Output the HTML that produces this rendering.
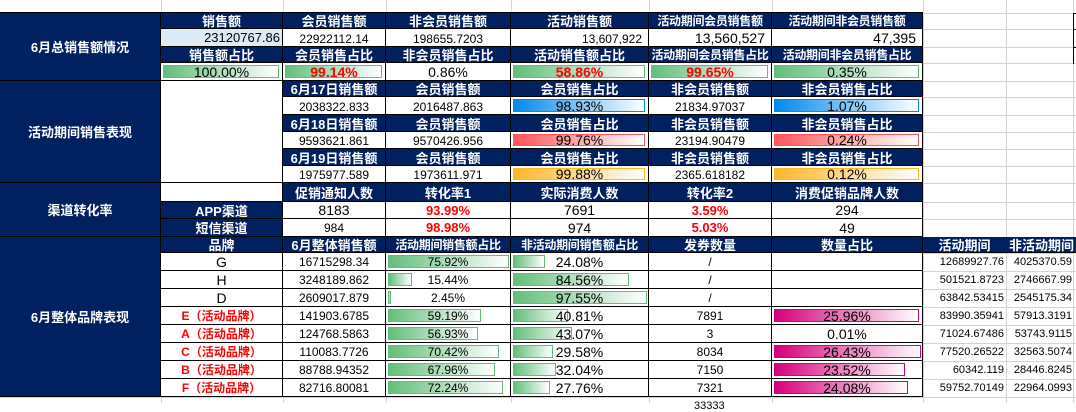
<!DOCTYPE html>
<html><head><meta charset="utf-8"><style>
body{margin:0;width:1076px;height:403px;overflow:hidden;background:#fff;position:relative;font-family:"Liberation Sans","Noto Sans CJK SC",sans-serif}
.gv{position:absolute;top:0;height:403px;width:1px;background:#d4d4d4}
.gh{position:absolute;left:0;width:1076px;height:1px;background:#d4d4d4}
.c{position:absolute;box-sizing:border-box;display:flex;align-items:center;justify-content:center;font-size:12px;color:#000;border-right:1px solid #000;border-bottom:1px solid #000;white-space:nowrap;background:#fff;overflow:hidden}
.n{background:#002060;color:#fff;font-weight:bold;font-size:13px}
.sm{font-size:12px;letter-spacing:-0.3px}
.t{background:transparent;border:none;justify-content:flex-end;padding-right:2px;font-size:11px}
.r{color:#f00;font-weight:bold;font-size:13px}
.rb{color:#f00;font-weight:bold;font-size:12px}
.bar{position:absolute;left:2px;top:2px;bottom:2px;box-sizing:border-box}
.g{background:linear-gradient(to right,#63be7b,#fff);border:1px solid #63be7b}
.bl{background:linear-gradient(to right,#008aef,#fff);border:1px solid #008aef}
.rd{background:linear-gradient(to right,#ff555a,#fff);border:1px solid #ff555a}
.or{background:linear-gradient(to right,#ffb628,#fff);border:1px solid #ffb628}
.pk{background:linear-gradient(to right,#d6007b,#fff);border:1px solid #d6007b}
.c span{position:relative}
.p{font-size:14px}
</style></head><body>
<div class="gv" style="left:161px"></div><div class="gv" style="left:283px"></div><div class="gv" style="left:386px"></div><div class="gv" style="left:511px"></div><div class="gv" style="left:649px"></div><div class="gv" style="left:772px"></div><div class="gv" style="left:923px"></div><div class="gv" style="left:1006px"></div><div class="gv" style="left:1073px"></div>
<div class="gh" style="top:13px"></div><div class="gh" style="top:29px"></div><div class="gh" style="top:47px"></div><div class="gh" style="top:63px"></div><div class="gh" style="top:81px"></div><div class="gh" style="top:97px"></div><div class="gh" style="top:115px"></div><div class="gh" style="top:132px"></div><div class="gh" style="top:149px"></div><div class="gh" style="top:166px"></div><div class="gh" style="top:183px"></div><div class="gh" style="top:202px"></div><div class="gh" style="top:219px"></div><div class="gh" style="top:237px"></div><div class="gh" style="top:253px"></div><div class="gh" style="top:271px"></div><div class="gh" style="top:289px"></div><div class="gh" style="top:307px"></div><div class="gh" style="top:325px"></div><div class="gh" style="top:343px"></div><div class="gh" style="top:361px"></div><div class="gh" style="top:379px"></div><div class="gh" style="top:397px"></div>
<div style="position:absolute;left:1073px;top:13px;width:3px;height:50px;border-left:1px solid #000;border-top:1px solid #000"></div>
<div style="position:absolute;left:1073px;top:29px;width:3px;height:1px;background:#000"></div>
<div style="position:absolute;left:1073px;top:47px;width:3px;height:1px;background:#000"></div>
<div style="position:absolute;left:0;top:12px;width:923px;height:1px;background:#000"></div>

<!-- Section 1 -->
<div class="c n" style="left:0;top:13px;width:161px;height:68px">6月总销售额情况</div>
<div class="c n" style="left:161px;top:13px;width:122px;height:16px">销售额</div>
<div class="c n" style="left:283px;top:13px;width:103px;height:16px">会员销售额</div>
<div class="c n" style="left:386px;top:13px;width:125px;height:16px">非会员销售额</div>
<div class="c n" style="left:511px;top:13px;width:138px;height:16px">活动销售额</div>
<div class="c n sm" style="left:649px;top:13px;width:123px;height:16px">活动期间会员销售额</div>
<div class="c n sm" style="left:772px;top:13px;width:151px;height:16px">活动期间非会员销售额</div>
<div class="c" style="left:161px;top:29px;width:122px;height:18px;background:#ddebf7;justify-content:flex-end;padding-right:2px;font-size:13px">23120767.86</div>
<div class="c" style="left:283px;top:29px;width:103px;height:18px;align-items:flex-end">22922112.14</div>
<div class="c" style="left:386px;top:29px;width:125px;height:18px;align-items:flex-end">198655.7203</div>
<div class="c" style="left:511px;top:29px;width:138px;height:18px;align-items:flex-end;justify-content:flex-end;padding-right:6px">13,607,922</div>
<div class="c" style="left:649px;top:29px;width:123px;height:18px;justify-content:flex-end;padding-right:6px;font-size:14px">13,560,527</div>
<div class="c" style="left:772px;top:29px;width:151px;height:18px;justify-content:flex-end;padding-right:6px;font-size:14px">47,395</div>
<div class="c n" style="left:161px;top:47px;width:122px;height:16px">销售额占比</div>
<div class="c n" style="left:283px;top:47px;width:103px;height:16px">会员销售占比</div>
<div class="c n" style="left:386px;top:47px;width:125px;height:16px">非会员销售占比</div>
<div class="c n" style="left:511px;top:47px;width:138px;height:16px">活动销售额占比</div>
<div class="c n sm" style="left:649px;top:47px;width:123px;height:16px">活动期间会员销售占比</div>
<div class="c n sm" style="left:772px;top:47px;width:151px;height:16px">活动期间非会员销售占比</div>
<div class="c p" style="left:161px;top:63px;width:122px;height:18px"><div class="bar g" style="width:116px"></div><span>100.00%</span></div>
<div class="c p r" style="left:283px;top:63px;width:103px;height:18px"><div class="bar g" style="width:97px"></div><span>99.14%</span></div>
<div class="c p" style="left:386px;top:63px;width:125px;height:18px"><span>0.86%</span></div>
<div class="c p r" style="left:511px;top:63px;width:138px;height:18px"><div class="bar g" style="width:132px"></div><span>58.86%</span></div>
<div class="c p r" style="left:649px;top:63px;width:123px;height:18px"><div class="bar g" style="width:117px"></div><span>99.65%</span></div>
<div class="c p" style="left:772px;top:63px;width:151px;height:18px"><div class="bar g" style="width:145px"></div><span>0.35%</span></div>

<!-- Section 2 -->
<div class="c n" style="left:0;top:81px;width:161px;height:102px">活动期间销售表现</div>
<div class="c" style="left:161px;top:81px;width:122px;height:102px"></div>
<div class="c n" style="left:283px;top:81px;width:103px;height:16px">6月17日销售额</div>
<div class="c n" style="left:386px;top:81px;width:125px;height:16px">会员销售额</div>
<div class="c n" style="left:511px;top:81px;width:138px;height:16px">会员销售占比</div>
<div class="c n" style="left:649px;top:81px;width:123px;height:16px">非会员销售额</div>
<div class="c n" style="left:772px;top:81px;width:151px;height:16px">非会员销售占比</div>
<div class="c" style="left:283px;top:97px;width:103px;height:18px;align-items:flex-end">2038322.833</div>
<div class="c" style="left:386px;top:97px;width:125px;height:18px;align-items:flex-end">2016487.863</div>
<div class="c p" style="left:511px;top:97px;width:138px;height:18px"><div class="bar bl" style="width:132px"></div><span>98.93%</span></div>
<div class="c" style="left:649px;top:97px;width:123px;height:18px;align-items:flex-end">21834.97037</div>
<div class="c p" style="left:772px;top:97px;width:151px;height:18px"><div class="bar bl" style="width:145px"></div><span>1.07%</span></div>
<div class="c n" style="left:283px;top:115px;width:103px;height:17px">6月18日销售额</div>
<div class="c n" style="left:386px;top:115px;width:125px;height:17px">会员销售额</div>
<div class="c n" style="left:511px;top:115px;width:138px;height:17px">会员销售占比</div>
<div class="c n" style="left:649px;top:115px;width:123px;height:17px">非会员销售额</div>
<div class="c n" style="left:772px;top:115px;width:151px;height:17px">非会员销售占比</div>
<div class="c" style="left:283px;top:132px;width:103px;height:17px;align-items:flex-end">9593621.861</div>
<div class="c" style="left:386px;top:132px;width:125px;height:17px;align-items:flex-end">9570426.956</div>
<div class="c p" style="left:511px;top:132px;width:138px;height:17px"><div class="bar rd" style="width:132px"></div><span>99.76%</span></div>
<div class="c" style="left:649px;top:132px;width:123px;height:17px;align-items:flex-end">23194.90479</div>
<div class="c p" style="left:772px;top:132px;width:151px;height:17px"><div class="bar rd" style="width:145px"></div><span>0.24%</span></div>
<div class="c n" style="left:283px;top:149px;width:103px;height:17px">6月19日销售额</div>
<div class="c n" style="left:386px;top:149px;width:125px;height:17px">会员销售额</div>
<div class="c n" style="left:511px;top:149px;width:138px;height:17px">会员销售占比</div>
<div class="c n" style="left:649px;top:149px;width:123px;height:17px">非会员销售额</div>
<div class="c n" style="left:772px;top:149px;width:151px;height:17px">非会员销售占比</div>
<div class="c" style="left:283px;top:166px;width:103px;height:17px;align-items:flex-end">1975977.589</div>
<div class="c" style="left:386px;top:166px;width:125px;height:17px;align-items:flex-end">1973611.971</div>
<div class="c p" style="left:511px;top:166px;width:138px;height:17px"><div class="bar or" style="width:132px"></div><span>99.88%</span></div>
<div class="c" style="left:649px;top:166px;width:123px;height:17px;align-items:flex-end">2365.618182</div>
<div class="c p" style="left:772px;top:166px;width:151px;height:17px"><div class="bar or" style="width:145px"></div><span>0.12%</span></div>

<!-- Section 3 -->
<div class="c n" style="left:0;top:183px;width:161px;height:54px">渠道转化率</div>
<div class="c" style="left:161px;top:183px;width:122px;height:19px"></div>
<div class="c n" style="left:283px;top:183px;width:103px;height:19px">促销通知人数</div>
<div class="c n" style="left:386px;top:183px;width:125px;height:19px">转化率1</div>
<div class="c n" style="left:511px;top:183px;width:138px;height:19px">实际消费人数</div>
<div class="c n" style="left:649px;top:183px;width:123px;height:19px">转化率2</div>
<div class="c n" style="left:772px;top:183px;width:151px;height:19px">消费促销品牌人数</div>
<div class="c n" style="left:161px;top:202px;width:122px;height:17px">APP渠道</div>
<div class="c p" style="left:283px;top:202px;width:103px;height:17px">8183</div>
<div class="c r" style="left:386px;top:202px;width:125px;height:17px">93.99%</div>
<div class="c p" style="left:511px;top:202px;width:138px;height:17px">7691</div>
<div class="c r" style="left:649px;top:202px;width:123px;height:17px">3.59%</div>
<div class="c p" style="left:772px;top:202px;width:151px;height:17px">294</div>
<div class="c n" style="left:161px;top:219px;width:122px;height:18px">短信渠道</div>
<div class="c" style="left:283px;top:219px;width:103px;height:18px">984</div>
<div class="c r" style="left:386px;top:219px;width:125px;height:18px">98.98%</div>
<div class="c p" style="left:511px;top:219px;width:138px;height:18px">974</div>
<div class="c r" style="left:649px;top:219px;width:123px;height:18px">5.03%</div>
<div class="c p" style="left:772px;top:219px;width:151px;height:18px">49</div>

<!-- Section 4 -->
<div class="c n" style="left:0;top:237px;width:161px;height:160px">6月整体品牌表现</div>
<div class="c n" style="left:161px;top:237px;width:122px;height:16px">品牌</div>
<div class="c n" style="left:283px;top:237px;width:103px;height:16px">6月整体销售额</div>
<div class="c n sm" style="left:386px;top:237px;width:125px;height:16px">活动期间销售额占比</div>
<div class="c n sm" style="left:511px;top:237px;width:138px;height:16px">非活动期间销售额占比</div>
<div class="c n" style="left:649px;top:237px;width:123px;height:16px">发券数量</div>
<div class="c n" style="left:772px;top:237px;width:151px;height:16px">数量占比</div>
<div class="c n" style="left:923px;top:237px;width:83px;height:16px;border-right:none">活动期间</div>
<div class="c n" style="left:1006px;top:237px;width:70px;height:16px;border-right:none;justify-content:flex-start;padding-left:3px">非活动期间</div>

<div class="c p" style="left:161px;top:253px;width:122px;height:18px">G</div>
<div class="c" style="left:283px;top:253px;width:103px;height:18px">16715298.34</div>
<div class="c" style="left:386px;top:253px;width:125px;height:18px"><div class="bar g" style="width:121px"></div><span>75.92%</span></div>
<div class="c p" style="left:511px;top:253px;width:138px;height:18px"><div class="bar g" style="width:32px"></div><span>24.08%</span></div>
<div class="c" style="left:649px;top:253px;width:123px;height:18px">/</div>
<div class="c" style="left:772px;top:253px;width:151px;height:18px"></div>
<div class="c t" style="left:923px;top:253px;width:83px;height:18px">12689927.76</div>
<div class="c t" style="left:1006px;top:253px;width:68px;height:18px">4025370.59</div>

<div class="c p" style="left:161px;top:271px;width:122px;height:18px">H</div>
<div class="c" style="left:283px;top:271px;width:103px;height:18px">3248189.862</div>
<div class="c" style="left:386px;top:271px;width:125px;height:18px"><div class="bar g" style="width:24px"></div><span>15.44%</span></div>
<div class="c p" style="left:511px;top:271px;width:138px;height:18px"><div class="bar g" style="width:116px"></div><span>84.56%</span></div>
<div class="c" style="left:649px;top:271px;width:123px;height:18px">/</div>
<div class="c" style="left:772px;top:271px;width:151px;height:18px"></div>
<div class="c t" style="left:923px;top:271px;width:83px;height:18px">501521.8723</div>
<div class="c t" style="left:1006px;top:271px;width:68px;height:18px">2746667.99</div>

<div class="c p" style="left:161px;top:289px;width:122px;height:18px">D</div>
<div class="c" style="left:283px;top:289px;width:103px;height:18px">2609017.879</div>
<div class="c" style="left:386px;top:289px;width:125px;height:18px"><div class="bar g" style="width:3px"></div><span>2.45%</span></div>
<div class="c p" style="left:511px;top:289px;width:138px;height:18px"><div class="bar g" style="width:134px"></div><span>97.55%</span></div>
<div class="c" style="left:649px;top:289px;width:123px;height:18px">/</div>
<div class="c" style="left:772px;top:289px;width:151px;height:18px"></div>
<div class="c t" style="left:923px;top:289px;width:83px;height:18px">63842.53415</div>
<div class="c t" style="left:1006px;top:289px;width:68px;height:18px">2545175.34</div>

<div class="c rb" style="left:161px;top:307px;width:122px;height:18px">E（活动品牌）</div>
<div class="c" style="left:283px;top:307px;width:103px;height:18px">141903.6785</div>
<div class="c" style="left:386px;top:307px;width:125px;height:18px"><div class="bar g" style="width:93px"></div><span>59.19%</span></div>
<div class="c p" style="left:511px;top:307px;width:138px;height:18px"><div class="bar g" style="width:55px"></div><span>40.81%</span></div>
<div class="c" style="left:649px;top:307px;width:123px;height:18px">7891</div>
<div class="c p" style="left:772px;top:307px;width:151px;height:18px"><div class="bar pk" style="width:145px"></div><span>25.96%</span></div>
<div class="c t" style="left:923px;top:307px;width:83px;height:18px">83990.35941</div>
<div class="c t" style="left:1006px;top:307px;width:68px;height:18px">57913.3191</div>

<div class="c rb" style="left:161px;top:325px;width:122px;height:18px">A（活动品牌）</div>
<div class="c" style="left:283px;top:325px;width:103px;height:18px">124768.5863</div>
<div class="c" style="left:386px;top:325px;width:125px;height:18px"><div class="bar g" style="width:90px"></div><span>56.93%</span></div>
<div class="c p" style="left:511px;top:325px;width:138px;height:18px"><div class="bar g" style="width:59px"></div><span>43.07%</span></div>
<div class="c" style="left:649px;top:325px;width:123px;height:18px">3</div>
<div class="c p" style="left:772px;top:325px;width:151px;height:18px">0.01%</div>
<div class="c t" style="left:923px;top:325px;width:83px;height:18px">71024.67486</div>
<div class="c t" style="left:1006px;top:325px;width:68px;height:18px">53743.9115</div>

<div class="c rb" style="left:161px;top:343px;width:122px;height:18px">C（活动品牌）</div>
<div class="c" style="left:283px;top:343px;width:103px;height:18px">110083.7726</div>
<div class="c" style="left:386px;top:343px;width:125px;height:18px"><div class="bar g" style="width:111px"></div><span>70.42%</span></div>
<div class="c p" style="left:511px;top:343px;width:138px;height:18px"><div class="bar g" style="width:40px"></div><span>29.58%</span></div>
<div class="c" style="left:649px;top:343px;width:123px;height:18px">8034</div>
<div class="c p" style="left:772px;top:343px;width:151px;height:18px"><div class="bar pk" style="width:147px"></div><span>26.43%</span></div>
<div class="c t" style="left:923px;top:343px;width:83px;height:18px">77520.26522</div>
<div class="c t" style="left:1006px;top:343px;width:68px;height:18px">32563.5074</div>

<div class="c rb" style="left:161px;top:361px;width:122px;height:18px">B（活动品牌）</div>
<div class="c" style="left:283px;top:361px;width:103px;height:18px">88788.94352</div>
<div class="c" style="left:386px;top:361px;width:125px;height:18px"><div class="bar g" style="width:107px"></div><span>67.96%</span></div>
<div class="c p" style="left:511px;top:361px;width:138px;height:18px"><div class="bar g" style="width:43px"></div><span>32.04%</span></div>
<div class="c" style="left:649px;top:361px;width:123px;height:18px">7150</div>
<div class="c p" style="left:772px;top:361px;width:151px;height:18px"><div class="bar pk" style="width:131px"></div><span>23.52%</span></div>
<div class="c t" style="left:923px;top:361px;width:83px;height:18px">60342.119</div>
<div class="c t" style="left:1006px;top:361px;width:68px;height:18px">28446.8245</div>

<div class="c rb" style="left:161px;top:379px;width:122px;height:18px">F（活动品牌）</div>
<div class="c" style="left:283px;top:379px;width:103px;height:18px">82716.80081</div>
<div class="c" style="left:386px;top:379px;width:125px;height:18px"><div class="bar g" style="width:115px"></div><span>72.24%</span></div>
<div class="c p" style="left:511px;top:379px;width:138px;height:18px"><div class="bar g" style="width:37px"></div><span>27.76%</span></div>
<div class="c" style="left:649px;top:379px;width:123px;height:18px">7321</div>
<div class="c p" style="left:772px;top:379px;width:151px;height:18px"><div class="bar pk" style="width:134px"></div><span>24.08%</span></div>
<div class="c t" style="left:923px;top:379px;width:83px;height:18px">59752.70149</div>
<div class="c t" style="left:1006px;top:379px;width:68px;height:18px">22964.0993</div>
<div style="position:absolute;left:694px;top:400px;font-size:11px;color:#000;line-height:12px">33333</div>
</body></html>
